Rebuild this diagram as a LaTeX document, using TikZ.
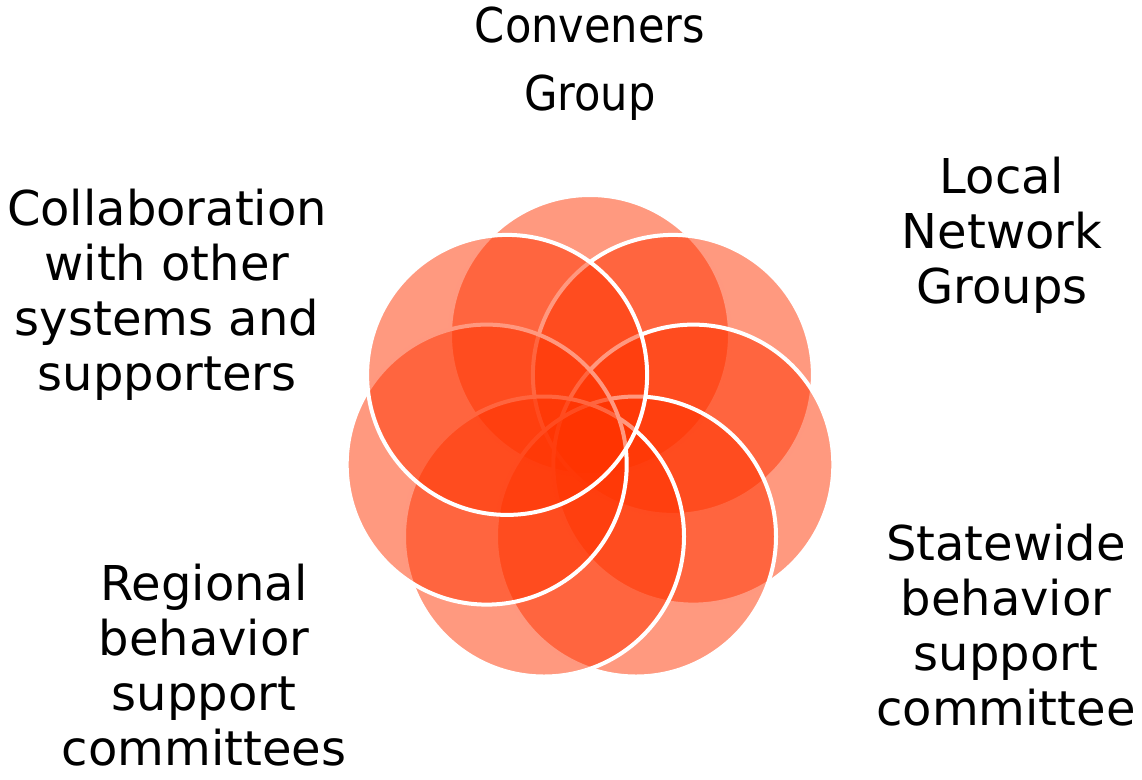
\documentclass[tikz,border=0pt]{standalone}
\usepackage{fontspec}
\setmainfont{DejaVu Sans}
\newfontfamily\narrowfont{DejaVu Sans Condensed}
\definecolor{petalred}{RGB}{255,51,0}
\begin{document}
\begin{tikzpicture}[x=1pt,y=-1pt,
  petal/.style={circle, minimum size=280pt, inner sep=0pt,
    fill=petalred, fill opacity=0.5, draw=white, draw opacity=1, line width=4pt},
  lbl/.style={align=center, inner sep=0pt, anchor=base,
    font=\fontsize{48}{55}\selectfont}]
\useasboundingbox (0,0) rectangle (1142,779);
% seven overlapping petals around (590,441), drawn clockwise from the top
\node[petal] (pT)  at (590.0,335.0) {};
\node[petal] (pUR) at (672.9,374.9) {};
\node[petal] (pR)  at (693.3,464.6) {};
\node[petal] (pLR) at (636.0,536.5) {};
\node[petal] (pLL) at (544.0,536.5) {};
\node[petal] (pL)  at (486.7,464.6) {};
\node[petal] (pUL) at (507.1,374.9) {};
% labels (placed by the baseline of their last line)
\node[lbl, font=\narrowfont\fontsize{48}{68}\selectfont] (conv) at (590,110) {Conveners\\Group};
\node[lbl] (local) at (1002,303) {Local\\Network\\Groups};
\node[lbl] (state) at (1006,725) {Statewide\\behavior\\support\\committee};
\node[lbl] (region) at (204,765) {Regional\\behavior\\support\\committees};
\node[lbl] (collab) at (167,390) {Collaboration\\with other\\systems and\\supporters};
\end{tikzpicture}
\end{document}
